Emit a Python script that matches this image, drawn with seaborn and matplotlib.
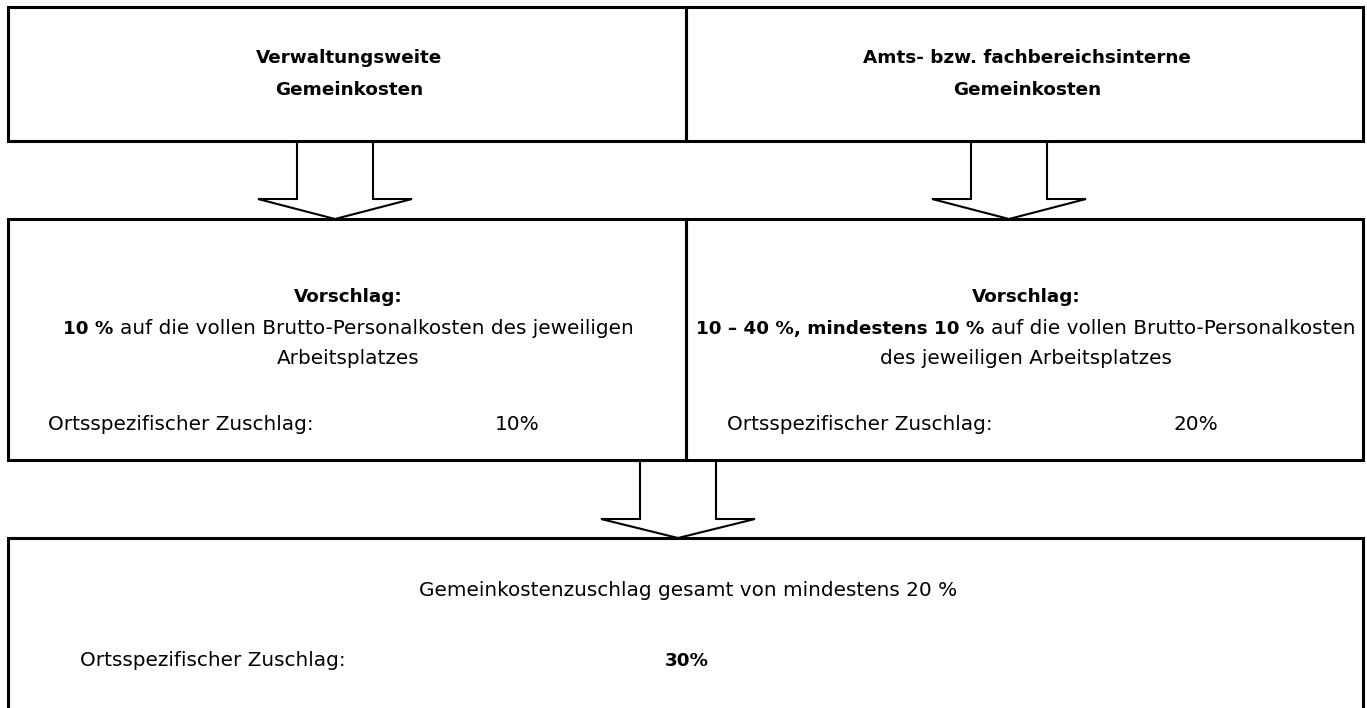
import matplotlib
matplotlib.use("Agg")
import matplotlib.pyplot as plt
import seaborn as sns
from matplotlib.patches import Polygon

# Inhalte des Schemas
titel = ["Verwaltungsweite\nGemeinkosten", "Amts- bzw. fachbereichsinterne\nGemeinkosten"]
vorschlag_fett = ["10 %", "10 – 40 %, mindestens 10 %"]
vorschlag_rest = ["auf die vollen Brutto-Personalkosten des jeweiligen",
                  "auf die vollen Brutto-Personalkosten"]
vorschlag_zeile2 = ["Arbeitsplatzes", "des jeweiligen Arbeitsplatzes"]
zuschlag_label = "Ortsspezifischer Zuschlag:"
zuschlag_werte = ["10%", "20%"]
gesamt_text = "Gemeinkostenzuschlag gesamt von mindestens 20 %"
gesamt_wert = "30%"

sns.set_style("white")
plt.rcParams["font.family"] = ["DejaVu Sans"]
plt.rcParams["text.color"] = "black"
FS = 14.4    # Normaltext
FSB = 13.2   # Fettdruck

fig = plt.figure(figsize=(13.67, 7.08), dpi=100)
ax = fig.add_axes([0, 0, 1, 1])
ax.set_xlim(0, 1367)
ax.set_ylim(708, 0)
ax.axis("off")

LW_BOX = 2.2
LW_ARR = 1.5


def box(x0, y0, x1, y1):
    ax.plot([x0, x1, x1, x0, x0], [y0, y0, y1, y1, y0], color="black",
            lw=LW_BOX, solid_joinstyle="miter")


def pfeil(xc, y0, y1, yt, schaft=38, kopf=77):
    pts = [(xc - schaft, y0), (xc - schaft, y1), (xc - kopf, y1), (xc, yt),
           (xc + kopf, y1), (xc + schaft, y1), (xc + schaft, y0)]
    ax.add_patch(Polygon(pts, closed=False, fill=False, ec="black", lw=LW_ARR,
                         joinstyle="miter"))


# Kästen
box(8, 7, 686, 141)
box(686, 7, 1363, 141)
box(8, 219, 686, 460)
box(686, 219, 1363, 460)
box(8, 538, 1363, 730)

# Pfeile
pfeil(335, 141, 199, 219)
pfeil(1009, 141, 199, 219)
pfeil(678, 460, 519, 538)

# Überschriften
for xc, t in zip([349, 1027], titel):
    l1, l2 = t.split("\n")
    ax.text(xc, 58, l1, ha="center", va="center", fontsize=FSB, fontweight="bold")
    ax.text(xc, 90, l2, ha="center", va="center", fontsize=FSB, fontweight="bold")

renderer = fig.canvas.get_renderer()


def breite(s, size, weight="normal"):
    t = ax.text(0, 0, s, fontsize=size, fontweight=weight)
    w = t.get_window_extent(renderer).width
    t.remove()
    return w


luecke = breite("x x", FS) - breite("xx", FS)


def zeile_mix(xc, y, fett, normal):
    wb = breite(fett, FSB, "bold")
    wn = breite(normal, FS)
    x0 = xc - (wb + luecke + wn) / 2
    ax.text(x0, y, fett, ha="left", va="center", fontsize=FSB, fontweight="bold")
    ax.text(x0 + wb + luecke, y, normal, ha="left", va="center", fontsize=FS)


mitte = [348, 1026]
for i, xc in enumerate(mitte):
    ax.text(xc, 297, "Vorschlag:", ha="center", va="center", fontsize=FSB, fontweight="bold")
    zeile_mix(xc, 329, vorschlag_fett[i], vorschlag_rest[i])
    ax.text(xc, 358, vorschlag_zeile2[i], ha="center", va="center", fontsize=FS)

for x_lab, x_val, wert in zip([48, 727], [517, 1196], zuschlag_werte):
    ax.text(x_lab, 425, zuschlag_label, ha="left", va="center", fontsize=FS)
    ax.text(x_val, 425, wert, ha="center", va="center", fontsize=FS)

ax.text(688, 591, gesamt_text, ha="center", va="center", fontsize=FS)
ax.text(80, 661, zuschlag_label, ha="left", va="center", fontsize=FS)
ax.text(687, 661, gesamt_wert, ha="center", va="center", fontsize=FSB, fontweight="bold")

fig.savefig("out.png", dpi=100)
